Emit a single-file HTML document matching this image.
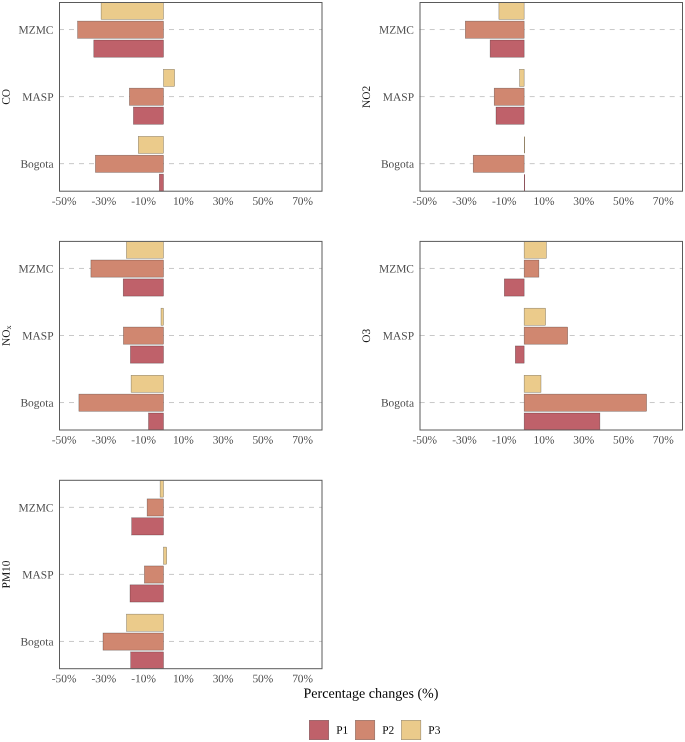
<!DOCTYPE html>
<html><head><meta charset="utf-8"><style>
html,body{margin:0;padding:0;background:#fff;}
svg{display:block;font-family:"Liberation Serif",serif;will-change:transform;}
</style></head><body>
<svg width="685" height="742" viewBox="0 0 685 742">
<rect width="685" height="742" fill="#fff"/>
<clipPath id="c00"><rect x="59.5" y="2.5" width="262.5" height="188.7"/></clipPath>
<line x1="59.0" y1="29.55" x2="322.0" y2="29.55" stroke="#c8c8c8" stroke-width="1" stroke-dasharray="5 5"/>
<line x1="59.0" y1="96.60" x2="322.0" y2="96.60" stroke="#c8c8c8" stroke-width="1" stroke-dasharray="5 5"/>
<line x1="59.0" y1="163.65" x2="322.0" y2="163.65" stroke="#c8c8c8" stroke-width="1" stroke-dasharray="5 5"/>
<g clip-path="url(#c00)" stroke="#000" stroke-width="0.5" stroke-opacity="0.45">
<rect x="101.10" y="2.25" width="62.40" height="17.10" fill="#EBCB8B"/>
<rect x="77.60" y="21.10" width="85.90" height="17.15" fill="#D08770"/>
<rect x="93.80" y="40.00" width="69.70" height="17.20" fill="#BF616A"/>
<rect x="163.50" y="69.30" width="11.10" height="17.10" fill="#EBCB8B"/>
<rect x="129.40" y="88.15" width="34.10" height="17.15" fill="#D08770"/>
<rect x="133.40" y="107.05" width="30.10" height="17.20" fill="#BF616A"/>
<rect x="138.30" y="136.35" width="25.20" height="17.10" fill="#EBCB8B"/>
<rect x="95.40" y="155.20" width="68.10" height="17.15" fill="#D08770"/>
<rect x="159.30" y="174.10" width="4.20" height="17.20" fill="#BF616A"/>
</g>
<rect x="59.5" y="2.5" width="262.5" height="188.7" fill="none" stroke="#5a5a5a" stroke-width="1"/>
<text x="53.5" y="33.65" transform="rotate(0.05 53.5 33.65)" text-anchor="end" fill="#4d4d4d" font-size="11.45">MZMC</text>
<text x="53.5" y="100.70" transform="rotate(0.05 53.5 100.70)" text-anchor="end" fill="#4d4d4d" font-size="11.45">MASP</text>
<text x="53.5" y="167.75" transform="rotate(0.05 53.5 167.75)" text-anchor="end" fill="#4d4d4d" font-size="11.45">Bogota</text>
<text x="64.12" y="204.70" transform="rotate(0.05 64.12 204.70)" text-anchor="middle" fill="#4d4d4d" font-size="11.45">-50%</text>
<text x="103.88" y="204.70" transform="rotate(0.05 103.88 204.70)" text-anchor="middle" fill="#4d4d4d" font-size="11.45">-30%</text>
<text x="143.62" y="204.70" transform="rotate(0.05 143.62 204.70)" text-anchor="middle" fill="#4d4d4d" font-size="11.45">-10%</text>
<text x="183.38" y="204.70" transform="rotate(0.05 183.38 204.70)" text-anchor="middle" fill="#4d4d4d" font-size="11.45">10%</text>
<text x="223.12" y="204.70" transform="rotate(0.05 223.12 204.70)" text-anchor="middle" fill="#4d4d4d" font-size="11.45">30%</text>
<text x="262.88" y="204.70" transform="rotate(0.05 262.88 204.70)" text-anchor="middle" fill="#4d4d4d" font-size="11.45">50%</text>
<text x="302.62" y="204.70" transform="rotate(0.05 302.62 204.70)" text-anchor="middle" fill="#4d4d4d" font-size="11.45">70%</text>
<text transform="translate(9.75,96.85) rotate(-89.95)" text-anchor="middle" fill="#1a1a1a" font-size="11.45">CO</text>
<clipPath id="c10"><rect x="420.0" y="2.5" width="262.5" height="188.7"/></clipPath>
<line x1="419.7" y1="29.55" x2="682.5" y2="29.55" stroke="#c8c8c8" stroke-width="1" stroke-dasharray="5 5"/>
<line x1="419.7" y1="96.60" x2="682.5" y2="96.60" stroke="#c8c8c8" stroke-width="1" stroke-dasharray="5 5"/>
<line x1="419.7" y1="163.65" x2="682.5" y2="163.65" stroke="#c8c8c8" stroke-width="1" stroke-dasharray="5 5"/>
<g clip-path="url(#c10)" stroke="#000" stroke-width="0.5" stroke-opacity="0.45">
<rect x="498.90" y="2.25" width="25.25" height="17.10" fill="#EBCB8B"/>
<rect x="465.30" y="21.10" width="58.85" height="17.15" fill="#D08770"/>
<rect x="490.10" y="40.00" width="34.05" height="17.20" fill="#BF616A"/>
<rect x="519.60" y="69.30" width="4.55" height="17.10" fill="#EBCB8B"/>
<rect x="494.20" y="88.15" width="29.95" height="17.15" fill="#D08770"/>
<rect x="496.00" y="107.05" width="28.15" height="17.20" fill="#BF616A"/>
<rect x="524" y="136.60" width="1" height="16.60" fill="#948468" stroke="none"/>
<rect x="473.20" y="155.20" width="50.95" height="17.15" fill="#D08770"/>
<rect x="524" y="174.35" width="1" height="16.70" fill="#8E545C" stroke="none"/>
</g>
<rect x="420.0" y="2.5" width="262.5" height="188.7" fill="none" stroke="#5a5a5a" stroke-width="1"/>
<text x="414.0" y="33.65" transform="rotate(0.05 414.0 33.65)" text-anchor="end" fill="#4d4d4d" font-size="11.45">MZMC</text>
<text x="414.0" y="100.70" transform="rotate(0.05 414.0 100.70)" text-anchor="end" fill="#4d4d4d" font-size="11.45">MASP</text>
<text x="414.0" y="167.75" transform="rotate(0.05 414.0 167.75)" text-anchor="end" fill="#4d4d4d" font-size="11.45">Bogota</text>
<text x="424.77" y="204.70" transform="rotate(0.05 424.77 204.70)" text-anchor="middle" fill="#4d4d4d" font-size="11.45">-50%</text>
<text x="464.52" y="204.70" transform="rotate(0.05 464.52 204.70)" text-anchor="middle" fill="#4d4d4d" font-size="11.45">-30%</text>
<text x="504.27" y="204.70" transform="rotate(0.05 504.27 204.70)" text-anchor="middle" fill="#4d4d4d" font-size="11.45">-10%</text>
<text x="544.02" y="204.70" transform="rotate(0.05 544.02 204.70)" text-anchor="middle" fill="#4d4d4d" font-size="11.45">10%</text>
<text x="583.77" y="204.70" transform="rotate(0.05 583.77 204.70)" text-anchor="middle" fill="#4d4d4d" font-size="11.45">30%</text>
<text x="623.52" y="204.70" transform="rotate(0.05 623.52 204.70)" text-anchor="middle" fill="#4d4d4d" font-size="11.45">50%</text>
<text x="663.27" y="204.70" transform="rotate(0.05 663.27 204.70)" text-anchor="middle" fill="#4d4d4d" font-size="11.45">70%</text>
<text transform="translate(370.10,96.85) rotate(-89.95)" text-anchor="middle" fill="#1a1a1a" font-size="11.45">NO2</text>
<clipPath id="c01"><rect x="59.5" y="241.4" width="262.5" height="188.6"/></clipPath>
<line x1="59.0" y1="268.45" x2="322.0" y2="268.45" stroke="#c8c8c8" stroke-width="1" stroke-dasharray="5 5"/>
<line x1="59.0" y1="335.50" x2="322.0" y2="335.50" stroke="#c8c8c8" stroke-width="1" stroke-dasharray="5 5"/>
<line x1="59.0" y1="402.55" x2="322.0" y2="402.55" stroke="#c8c8c8" stroke-width="1" stroke-dasharray="5 5"/>
<g clip-path="url(#c01)" stroke="#000" stroke-width="0.5" stroke-opacity="0.45">
<rect x="126.40" y="241.15" width="37.10" height="17.10" fill="#EBCB8B"/>
<rect x="90.90" y="260.00" width="72.60" height="17.15" fill="#D08770"/>
<rect x="123.20" y="278.90" width="40.30" height="17.20" fill="#BF616A"/>
<rect x="161.00" y="308.20" width="2.50" height="17.10" fill="#EBCB8B"/>
<rect x="123.40" y="327.05" width="40.10" height="17.15" fill="#D08770"/>
<rect x="130.40" y="345.95" width="33.10" height="17.20" fill="#BF616A"/>
<rect x="131.10" y="375.25" width="32.40" height="17.10" fill="#EBCB8B"/>
<rect x="78.90" y="394.10" width="84.60" height="17.15" fill="#D08770"/>
<rect x="148.50" y="413.00" width="15.00" height="17.20" fill="#BF616A"/>
</g>
<rect x="59.5" y="241.4" width="262.5" height="188.6" fill="none" stroke="#5a5a5a" stroke-width="1"/>
<text x="53.5" y="272.55" transform="rotate(0.05 53.5 272.55)" text-anchor="end" fill="#4d4d4d" font-size="11.45">MZMC</text>
<text x="53.5" y="339.60" transform="rotate(0.05 53.5 339.60)" text-anchor="end" fill="#4d4d4d" font-size="11.45">MASP</text>
<text x="53.5" y="406.65" transform="rotate(0.05 53.5 406.65)" text-anchor="end" fill="#4d4d4d" font-size="11.45">Bogota</text>
<text x="64.12" y="443.50" transform="rotate(0.05 64.12 443.50)" text-anchor="middle" fill="#4d4d4d" font-size="11.45">-50%</text>
<text x="103.88" y="443.50" transform="rotate(0.05 103.88 443.50)" text-anchor="middle" fill="#4d4d4d" font-size="11.45">-30%</text>
<text x="143.62" y="443.50" transform="rotate(0.05 143.62 443.50)" text-anchor="middle" fill="#4d4d4d" font-size="11.45">-10%</text>
<text x="183.38" y="443.50" transform="rotate(0.05 183.38 443.50)" text-anchor="middle" fill="#4d4d4d" font-size="11.45">10%</text>
<text x="223.12" y="443.50" transform="rotate(0.05 223.12 443.50)" text-anchor="middle" fill="#4d4d4d" font-size="11.45">30%</text>
<text x="262.88" y="443.50" transform="rotate(0.05 262.88 443.50)" text-anchor="middle" fill="#4d4d4d" font-size="11.45">50%</text>
<text x="302.62" y="443.50" transform="rotate(0.05 302.62 443.50)" text-anchor="middle" fill="#4d4d4d" font-size="11.45">70%</text>
<text transform="translate(9.75,335.70) rotate(-89.95)" text-anchor="middle" fill="#1a1a1a" font-size="11.45">NO<tspan font-size="8" dy="1.3">x</tspan></text>
<clipPath id="c11"><rect x="420.0" y="241.4" width="262.5" height="188.6"/></clipPath>
<line x1="419.7" y1="268.45" x2="682.5" y2="268.45" stroke="#c8c8c8" stroke-width="1" stroke-dasharray="5 5"/>
<line x1="419.7" y1="335.50" x2="682.5" y2="335.50" stroke="#c8c8c8" stroke-width="1" stroke-dasharray="5 5"/>
<line x1="419.7" y1="402.55" x2="682.5" y2="402.55" stroke="#c8c8c8" stroke-width="1" stroke-dasharray="5 5"/>
<g clip-path="url(#c11)" stroke="#000" stroke-width="0.5" stroke-opacity="0.45">
<rect x="524.15" y="241.15" width="22.25" height="17.10" fill="#EBCB8B"/>
<rect x="524.15" y="260.00" width="14.75" height="17.15" fill="#D08770"/>
<rect x="504.30" y="278.90" width="19.85" height="17.20" fill="#BF616A"/>
<rect x="524.15" y="308.20" width="21.45" height="17.10" fill="#EBCB8B"/>
<rect x="524.15" y="327.05" width="43.55" height="17.15" fill="#D08770"/>
<rect x="515.30" y="345.95" width="8.85" height="17.20" fill="#BF616A"/>
<rect x="524.15" y="375.25" width="16.85" height="17.10" fill="#EBCB8B"/>
<rect x="524.15" y="394.10" width="122.45" height="17.15" fill="#D08770"/>
<rect x="524.15" y="413.00" width="75.75" height="17.20" fill="#BF616A"/>
</g>
<rect x="420.0" y="241.4" width="262.5" height="188.6" fill="none" stroke="#5a5a5a" stroke-width="1"/>
<text x="414.0" y="272.55" transform="rotate(0.05 414.0 272.55)" text-anchor="end" fill="#4d4d4d" font-size="11.45">MZMC</text>
<text x="414.0" y="339.60" transform="rotate(0.05 414.0 339.60)" text-anchor="end" fill="#4d4d4d" font-size="11.45">MASP</text>
<text x="414.0" y="406.65" transform="rotate(0.05 414.0 406.65)" text-anchor="end" fill="#4d4d4d" font-size="11.45">Bogota</text>
<text x="424.77" y="443.50" transform="rotate(0.05 424.77 443.50)" text-anchor="middle" fill="#4d4d4d" font-size="11.45">-50%</text>
<text x="464.52" y="443.50" transform="rotate(0.05 464.52 443.50)" text-anchor="middle" fill="#4d4d4d" font-size="11.45">-30%</text>
<text x="504.27" y="443.50" transform="rotate(0.05 504.27 443.50)" text-anchor="middle" fill="#4d4d4d" font-size="11.45">-10%</text>
<text x="544.02" y="443.50" transform="rotate(0.05 544.02 443.50)" text-anchor="middle" fill="#4d4d4d" font-size="11.45">10%</text>
<text x="583.77" y="443.50" transform="rotate(0.05 583.77 443.50)" text-anchor="middle" fill="#4d4d4d" font-size="11.45">30%</text>
<text x="623.52" y="443.50" transform="rotate(0.05 623.52 443.50)" text-anchor="middle" fill="#4d4d4d" font-size="11.45">50%</text>
<text x="663.27" y="443.50" transform="rotate(0.05 663.27 443.50)" text-anchor="middle" fill="#4d4d4d" font-size="11.45">70%</text>
<text transform="translate(370.10,335.70) rotate(-89.95)" text-anchor="middle" fill="#1a1a1a" font-size="11.45">O3</text>
<clipPath id="c02"><rect x="59.5" y="480.3" width="262.5" height="188.40000000000003"/></clipPath>
<line x1="59.0" y1="507.35" x2="322.0" y2="507.35" stroke="#c8c8c8" stroke-width="1" stroke-dasharray="5 5"/>
<line x1="59.0" y1="574.40" x2="322.0" y2="574.40" stroke="#c8c8c8" stroke-width="1" stroke-dasharray="5 5"/>
<line x1="59.0" y1="641.45" x2="322.0" y2="641.45" stroke="#c8c8c8" stroke-width="1" stroke-dasharray="5 5"/>
<g clip-path="url(#c02)" stroke="#000" stroke-width="0.5" stroke-opacity="0.45">
<rect x="160.10" y="480.05" width="3.40" height="17.10" fill="#EBCB8B"/>
<rect x="147.10" y="498.90" width="16.40" height="17.15" fill="#D08770"/>
<rect x="131.70" y="517.80" width="31.80" height="17.20" fill="#BF616A"/>
<rect x="163.50" y="547.10" width="3.20" height="17.10" fill="#EBCB8B"/>
<rect x="144.40" y="565.95" width="19.10" height="17.15" fill="#D08770"/>
<rect x="130.00" y="584.85" width="33.50" height="17.20" fill="#BF616A"/>
<rect x="126.50" y="614.15" width="37.00" height="17.10" fill="#EBCB8B"/>
<rect x="103.00" y="633.00" width="60.50" height="17.15" fill="#D08770"/>
<rect x="130.70" y="651.90" width="32.80" height="17.20" fill="#BF616A"/>
</g>
<rect x="59.5" y="480.3" width="262.5" height="188.40000000000003" fill="none" stroke="#5a5a5a" stroke-width="1"/>
<text x="53.5" y="511.45" transform="rotate(0.05 53.5 511.45)" text-anchor="end" fill="#4d4d4d" font-size="11.45">MZMC</text>
<text x="53.5" y="578.50" transform="rotate(0.05 53.5 578.50)" text-anchor="end" fill="#4d4d4d" font-size="11.45">MASP</text>
<text x="53.5" y="645.55" transform="rotate(0.05 53.5 645.55)" text-anchor="end" fill="#4d4d4d" font-size="11.45">Bogota</text>
<text x="64.12" y="682.20" transform="rotate(0.05 64.12 682.20)" text-anchor="middle" fill="#4d4d4d" font-size="11.45">-50%</text>
<text x="103.88" y="682.20" transform="rotate(0.05 103.88 682.20)" text-anchor="middle" fill="#4d4d4d" font-size="11.45">-30%</text>
<text x="143.62" y="682.20" transform="rotate(0.05 143.62 682.20)" text-anchor="middle" fill="#4d4d4d" font-size="11.45">-10%</text>
<text x="183.38" y="682.20" transform="rotate(0.05 183.38 682.20)" text-anchor="middle" fill="#4d4d4d" font-size="11.45">10%</text>
<text x="223.12" y="682.20" transform="rotate(0.05 223.12 682.20)" text-anchor="middle" fill="#4d4d4d" font-size="11.45">30%</text>
<text x="262.88" y="682.20" transform="rotate(0.05 262.88 682.20)" text-anchor="middle" fill="#4d4d4d" font-size="11.45">50%</text>
<text x="302.62" y="682.20" transform="rotate(0.05 302.62 682.20)" text-anchor="middle" fill="#4d4d4d" font-size="11.45">70%</text>
<text transform="translate(9.75,574.50) rotate(-89.95)" text-anchor="middle" fill="#1a1a1a" font-size="11.45">PM10</text>
<text x="371" y="697.75" transform="rotate(0.05 371 697.75)" text-anchor="middle" fill="#000" font-size="14.05">Percentage changes (%)</text>
<rect x="309.25" y="720.25" width="19.5" height="19.5" fill="#BF616A" stroke="#000" stroke-width="0.5" stroke-opacity="0.45"/>
<text x="336.20" y="733.7" transform="rotate(0.05 336.20 733.7)" fill="#000" font-size="11.45">P1</text>
<rect x="355.30" y="720.25" width="19.5" height="19.5" fill="#D08770" stroke="#000" stroke-width="0.5" stroke-opacity="0.45"/>
<text x="382.25" y="733.7" transform="rotate(0.05 382.25 733.7)" fill="#000" font-size="11.45">P2</text>
<rect x="401.35" y="720.25" width="19.5" height="19.5" fill="#EBCB8B" stroke="#000" stroke-width="0.5" stroke-opacity="0.45"/>
<text x="428.30" y="733.7" transform="rotate(0.05 428.30 733.7)" fill="#000" font-size="11.45">P3</text>
</svg>
</body></html>
